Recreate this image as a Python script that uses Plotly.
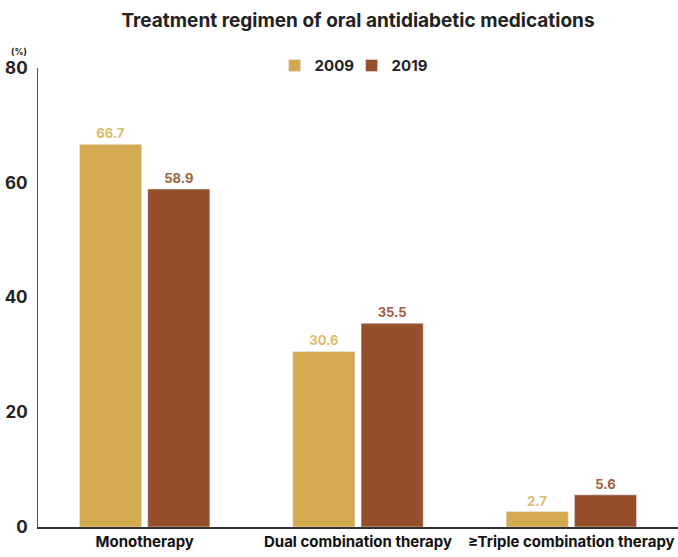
import plotly.graph_objects as go

categories = ["Monotherapy", "Dual combination therapy", "≥Triple combination therapy"]
v2009 = [66.7, 30.6, 2.7]
v2019 = [58.9, 35.5, 5.6]
labels = ["2009", "2019"]
yticks = [0, 20, 40, 60, 80]

c2009 = "#D4AA50"
c2019 = "#974F2B"

fig = go.Figure()
fig.add_bar(x=categories, y=v2009, name=f"<b>{labels[0]}</b>", marker_color=c2009,
            text=[f"<b>{v:.1f}</b>" for v in v2009], textposition="outside",
            textfont=dict(color="#DDBB6E", size=13, family="Inter"), cliponaxis=False)
fig.add_bar(x=categories, y=v2019, name=f"<b>{labels[1]}</b>", marker_color=c2019,
            text=[f"<b>{v:.1f}</b>" for v in v2019], textposition="outside",
            textfont=dict(color="#A0603F", size=13, family="Inter"), cliponaxis=False)

fig.update_layout(
    width=678, height=557,
    margin=dict(l=38, r=0, t=68, b=30),
    paper_bgcolor="white", plot_bgcolor="white",
    barmode="group", bargap=0.36, bargroupgap=0.09,
    font=dict(family="Inter", color="#222"),
    title=dict(text="<b>Treatment regimen of oral antidiabetic medications</b>",
               x=0.528, xanchor="center", y=0.963, yanchor="middle",
               font=dict(size=19, color="#222")),
    legend=dict(orientation="h", x=0.49, xanchor="center", y=1.005, yanchor="middle",
                font=dict(size=15, color="#222"), itemwidth=30, traceorder="normal",
                entrywidth=32, entrywidthmode="pixels"),
    showlegend=True,
)
fig.update_yaxes(range=[0, 80], tickvals=yticks, ticktext=[f"<b>{t}</b>" for t in yticks],
                 showgrid=False, zeroline=False, showline=True, linecolor="#555", linewidth=1,
                 tickfont=dict(size=17, color="#222"), ticks="", ticklabelstandoff=6)
fig.update_xaxes(showgrid=False, showline=True, linecolor="#333", linewidth=1.5,
                 tickfont=dict(size=15, color="#111"), ticks="",
                 ticktext=[f"<b>{c}</b>" for c in categories], tickvals=categories)
fig.add_annotation(text="<b>(%)</b>", xref="paper", yref="paper", x=-0.03, y=1.02,
                   xanchor="center", yanchor="bottom", showarrow=False,
                   font=dict(size=9, color="#222"))
fig.write_html("out.html")
